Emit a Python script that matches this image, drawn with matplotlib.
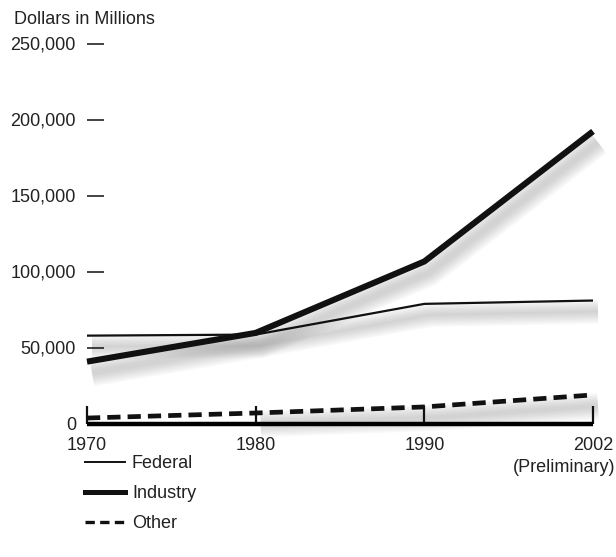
import numpy as np
import matplotlib
matplotlib.use("Agg")
import matplotlib.pyplot as plt
import matplotlib.transforms as mtransforms
from matplotlib.lines import Line2D

plt.rcParams['font.family'] = ['Liberation Sans', 'DejaVu Sans']

# R&D funding by source, dollars in millions
years = ['1970', '1980', '1990', '2002']
federal = [57800, 58500, 78700, 80900]
industry = [40700, 59600, 106600, 192200]
other = [3600, 6900, 10900, 18800]
yticks = [0, 50000, 100000, 150000, 200000, 250000]

W, H = 616, 557
fig = plt.figure(figsize=(W / 100, H / 100), dpi=100)
ax = fig.add_axes([87 / W, 1 - 423.5 / H, (593 - 87) / W, (423.5 - 43.5) / H])

x = np.arange(len(years))


def shadow(xs, ys, lw):
    # soft grey drop shadow, built from stacked translucent strokes
    off = mtransforms.offset_copy(ax.transData, fig=fig, x=5, y=-11, units='dots')
    for k in range(9):
        ax.plot(xs, ys, color='#858585', lw=lw + 2.0 * k, alpha=0.045,
                solid_capstyle='butt', transform=off, clip_on=False, zorder=1)


shadow(x, industry, 4.0)
shadow(x, federal, 1.5)
shadow(x[1:], other[1:], 3.0)

ax.plot(x, federal, color='#111111', lw=1.6, solid_capstyle='butt',
        clip_on=False, zorder=3, label='Federal')
ax.plot(x, industry, color='#111111', lw=4.4, solid_capstyle='butt',
        solid_joinstyle='miter', clip_on=False, zorder=4, label='Industry')
ax.plot(x, other, color='#111111', lw=3.4, dashes=(2.8, 1.5),
        dash_capstyle='butt', clip_on=False, zorder=3, label='Other')

ax.set_xlim(0, 3)
ax.set_ylim(0, 250000)
ax.set_xticks(x)
ax.set_xticklabels(years, fontsize=13)
ax.set_yticks(yticks)
ax.set_yticklabels([f'{v:,}' for v in yticks], fontsize=13)

for s in ['top', 'right', 'left']:
    ax.spines[s].set_visible(False)
ax.spines['bottom'].set_linewidth(3.2)
ax.spines['bottom'].set_capstyle('butt')
ax.spines['bottom'].set_zorder(5)

ax.tick_params(axis='y', direction='in', length=12, width=1.1, pad=8,
               color='#111111', labelcolor='#222222')
ax.tick_params(axis='x', direction='in', length=13, width=1.6, pad=10,
               color='#111111', labelcolor='#222222')
ax.patch.set_visible(False)

fig.text(14 / W, 1 - 20 / H, 'Dollars in Millions', fontsize=13,
         color='#222222', va='center', ha='left')
fig.text(615 / W, 1 - 467 / H, '(Preliminary)', fontsize=13,
         color='#222222', va='center', ha='right')

handles = [
    Line2D([], [], color='#111111', lw=1.4),
    Line2D([], [], color='#111111', lw=3.6),
    Line2D([], [], color='#111111', lw=2.4, dashes=(2.8, 1.6)),
]
fig.legend(handles, ['Federal', 'Industry', 'Other'], loc='upper left',
           bbox_to_anchor=(85 / W, 1 - 455 / H), frameon=False, fontsize=13,
           handlelength=2.2, handletextpad=0.4, labelspacing=0.72,
           borderpad=0, borderaxespad=0, labelcolor='#222222')

fig.savefig('out.png', dpi=100)
